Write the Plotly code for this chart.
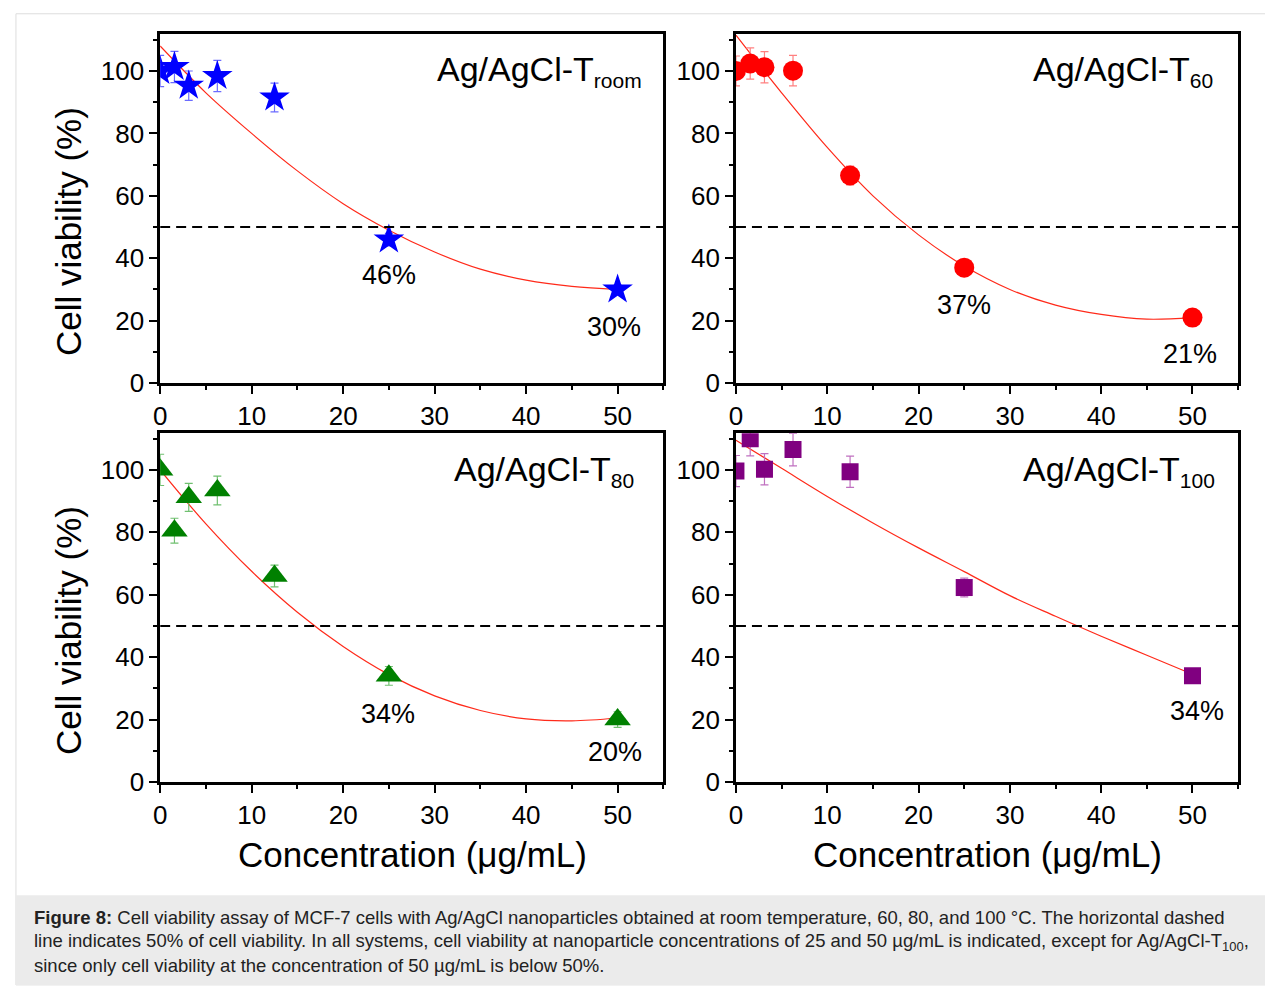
import plotly.graph_objects as go

W, H = 1265, 992

# Nanoparticle concentrations (µg/mL)
conc = [0, 1.5625, 3.125, 6.25, 12.5, 25, 50]

# Cell viability (%) and standard deviations for each synthesis temperature
room_viab = [100, 101.3, 95.3, 98.4, 91.5, 46, 30]
room_err = [5, 5, 4.7, 5, 4.6, 2, 1.5]
t60_viab = [100, 102.4, 101.2, 100.1, 66.5, 37, 21]
t60_err = [4.8, 5, 5, 4.9, 3, 2, 1.5]
t80_viab = [100, 80.5, 91.2, 93.4, 66, 34, 20]
t80_err = [5, 4, 4.5, 4.6, 3.5, 3, 2.5]
t100_viab = [99.6, 110, 100.2, 106.5, 99.4, 62.3, 34]
t100_err = [5, 5.5, 5, 5.2, 5, 3, 1.5]

# Fitted trend curves
fit_x = [0, 5, 10, 15, 20, 25, 30, 35, 40, 45, 50]
room_fit = [108, 93, 80, 68, 57.5, 49, 42, 36.5, 33, 31, 30]
t60_fit = [111.5, 93, 75.5, 60, 47.5, 37.5, 30, 25, 22, 20.5, 21]
t80_fit = [100, 82.7, 67.5, 54.4, 43.4, 34.4, 27.6, 22.9, 20.2, 19.6, 20.5]
t100_fit = [109.5, 100.5, 91.5, 83, 75, 67.4, 59.7, 53.1, 46.7, 40.6, 34.5]

x_ticks = [0, 10, 20, 30, 40, 50]
y_ticks = [0, 20, 40, 60, 80, 100]

FONT = "Arial, Liberation Sans, sans-serif"


def fx(px):
    return px / W


def fy(py):
    return 1 - py / H


panels = [
    dict(sub="room", viab=room_viab, err=room_err, fit=room_fit,
         symbol="star", size=23, color="#0000FF", ecolor="#6b6bff",
         xd=(154, 660), yd=(35, 389), title_right=641, title_y=72,
         labels=[(25, 46, 0, -35), (50, 30, -4, -38)]),
    dict(sub="60", viab=t60_viab, err=t60_err, fit=t60_fit,
         symbol="circle", size=20, color="#FF0000", ecolor="#ff8080",
         xd=(733, 1238), yd=(35, 389), title_right=1215, title_y=72,
         labels=[(25, 37, 0, -37), (50, 21, -2, -36)]),
    dict(sub="80", viab=t80_viab, err=t80_err, fit=t80_fit,
         symbol="triangle-up", size=23, color="#008000", ecolor="#70c070",
         xd=(154, 660), yd=(440, 794), title_right=633, title_y=478,
         labels=[(25, 34, -1, -38), (50, 20, -3, -32)]),
    dict(sub="100", viab=t100_viab, err=t100_err, fit=t100_fit,
         symbol="square", size=17, color="#800080", ecolor="#c070c0",
         xd=(733, 1238), yd=(440, 794), title_right=1217, title_y=478,
         labels=[(50, 34, 5, -35)]),
]

fig = go.Figure()
annotations = []
shapes = []

for i, p in enumerate(panels, start=1):
    xa = "x" if i == 1 else f"x{i}"
    ya = "y" if i == 1 else f"y{i}"
    # fitted curve
    fig.add_trace(go.Scatter(
        x=fit_x, y=p["fit"], mode="lines", line=dict(color="#FF2A1A", width=1.2, shape="spline"),
        xaxis=xa, yaxis=ya, showlegend=False, hoverinfo="skip"))
    # measured points with error bars
    fig.add_trace(go.Scatter(
        x=conc, y=p["viab"], mode="markers",
        marker=dict(symbol=p["symbol"], size=p["size"], color=p["color"], line=dict(width=0)),
        error_y=dict(type="data", array=p["err"], color=p["ecolor"], thickness=1.2, width=4),
        xaxis=xa, yaxis=ya, showlegend=False))

    axis_common = dict(
        showline=True, linewidth=2.5, linecolor="black", mirror=True,
        ticks="outside", ticklen=8, tickwidth=2, tickcolor="black",
        showgrid=False, zeroline=False,
        tickfont=dict(family=FONT, size=26, color="black"),
    )
    xkey = "xaxis" if i == 1 else f"xaxis{i}"
    ykey = "yaxis" if i == 1 else f"yaxis{i}"
    fig.layout[xkey] = dict(
        axis_common, domain=[fx(p["xd"][0]), fx(p["xd"][1])], range=[0, 55],
        tickvals=x_ticks, anchor=ya,
        minor=dict(tick0=0, dtick=5, ticks="outside", ticklen=4, tickwidth=2, tickcolor="black"))
    fig.layout[ykey] = dict(
        axis_common, domain=[fy(p["yd"][1]), fy(p["yd"][0])], range=[0, 111.7],
        tickvals=y_ticks, anchor=xa,
        minor=dict(tick0=0, dtick=10, ticks="outside", ticklen=4, tickwidth=2, tickcolor="black"))

    # 50 % viability reference line
    shapes.append(dict(type="line", xref=xa, yref=ya, x0=0, x1=55, y0=50, y1=50,
                       line=dict(color="black", width=2, dash="10px,6px")))

    # panel title
    annotations.append(dict(
        xref="paper", yref="paper", x=fx(p["title_right"]), y=fy(p["title_y"]),
        xanchor="right", yanchor="middle", showarrow=False,
        text=f"Ag/AgCl-T<sub><span style='font-size:21px'>{p['sub']}</span></sub>",
        font=dict(family=FONT, size=34, color="black")))

    # viability labels for the highest concentrations
    for cx, val, dx, dy in p["labels"]:
        annotations.append(dict(
            xref=xa, yref=ya, x=cx, y=val, xshift=dx, yshift=dy, showarrow=False,
            text=f"{val}%", font=dict(family=FONT, size=27, color="black"),
            xanchor="center", yanchor="middle"))

# axis titles
for yc in (235, 640):
    annotations.append(dict(xref="paper", yref="paper", x=fx(62), y=fy(yc), showarrow=False,
                            text="Cell viability (%)", textangle=-90,
                            font=dict(family=FONT, size=35, color="black"),
                            xanchor="center", yanchor="middle"))
for xc in (408, 986):
    annotations.append(dict(xref="paper", yref="paper", x=fx(xc), y=fy(868), showarrow=False,
                            text="Concentration (\u03bcg/mL)",
                            font=dict(family=FONT, size=35, color="black"),
                            xanchor="center", yanchor="middle"))

# outer frame and caption panel
shapes.insert(0, dict(type="rect", xref="paper", yref="paper", x0=fx(9), x1=fx(1275), y0=fy(1000), y1=fy(14),
                      line=dict(color="#dddddd", width=1), fillcolor="white", layer="below"))
shapes.insert(1, dict(type="rect", xref="paper", yref="paper", x0=fx(9), x1=fx(1275), y0=fy(1000), y1=fy(909),
                      line=dict(width=0), fillcolor="#ebebeb", layer="below"))

caption = [
    "<b>Figure 8:</b> Cell viability assay of MCF-7 cells with Ag/AgCl nanoparticles obtained at room temperature, "
    "60, 80, and 100 \u00b0C. The horizontal dashed",
    "line indicates 50% of cell viability. In all systems, cell viability at nanoparticle concentrations of 25 and "
    "50 \u00b5g/mL is indicated, except for Ag/AgCl-T<sub>100</sub>,",
    "since only cell viability at the concentration of 50 \u00b5g/mL is below 50%.",
]
for k, line in enumerate(caption):
    annotations.append(dict(xref="paper", yref="paper", x=fx(25), y=fy(932 + 24 * k), showarrow=False,
                            text=line, font=dict(family=FONT, size=18.5, color="#222222"),
                            xanchor="left", yanchor="middle"))

fig.update_layout(
    width=W, height=H, margin=dict(l=0, r=0, t=0, b=0),
    paper_bgcolor="white", plot_bgcolor="white",
    shapes=shapes, annotations=annotations,
)

fig.write_html("out.html")
